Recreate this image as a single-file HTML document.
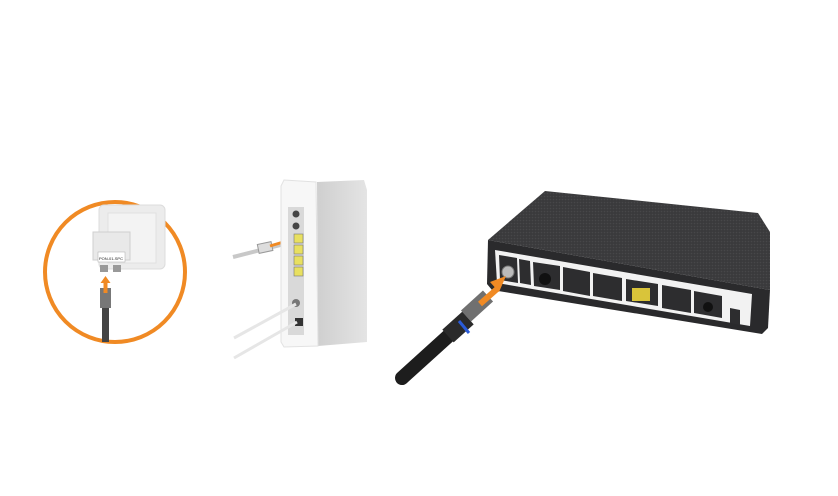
<!DOCTYPE html>
<html><head><style>html,body{margin:0;padding:0;background:#fff}svg{display:block}</style></head>
<body>
<svg width="838" height="496" viewBox="0 0 838 496" xmlns="http://www.w3.org/2000/svg">
<defs>
<pattern id="dots" width="3" height="3" patternUnits="userSpaceOnUse"><rect width="3" height="3" fill="#3a3a3c"/><circle cx="1.5" cy="1.5" r="0.8" fill="#474749"/></pattern>
<linearGradient id="side" x1="0" x2="1"><stop offset="0" stop-color="#cfcfcf"/><stop offset="1" stop-color="#e4e4e4"/></linearGradient>
</defs>
<circle cx="115" cy="272" r="70" fill="#fff" stroke="#f08a24" stroke-width="4"/>
<rect x="99" y="205" width="66" height="64" rx="5" fill="#ececec" stroke="#dcdcdc"/>
<rect x="108" y="213" width="48" height="50" fill="#f3f3f3" stroke="#e0e0e0"/>
<rect x="93" y="232" width="37" height="28" fill="#e9e9e9" stroke="#cfcfcf"/>
<rect x="98" y="252" width="27" height="10" fill="#fff" stroke="#aaa" stroke-width=".5"/>
<text x="111" y="260" font-family="Liberation Sans" font-size="4" text-anchor="middle" fill="#222">PON-01-SPC</text>
<rect x="100" y="265" width="8" height="7" fill="#999"/><rect x="113" y="265" width="8" height="7" fill="#999"/>
<rect x="100" y="288" width="11" height="20" fill="#777"/>
<rect x="102" y="308" width="7" height="34" fill="#444"/>
<path d="M105.5 276 l-5 7 h3 v10 h4 v-10 h3z" fill="#f08a24"/>
<path d="M233 257 L300 240" stroke="#c8c8c8" stroke-width="4" fill="none"/>
<rect x="258" y="243" width="14" height="9" fill="#ddd" stroke="#999" transform="rotate(-12 265 247)"/>
<path d="M270 246 L290 240" stroke="#f08a24" stroke-width="3"/>
<path d="M286 236 l8 4 -8 4z" fill="#f08a24"/>
<path d="M317 182 L364 180 L367 190 L367 342 L318 346z" fill="url(#side)"/>
<path d="M284 180 L316 182 L318 346 L284 347 L281 342 L281 186z" fill="#f7f7f7" stroke="#e2e2e2"/>
<rect x="288" y="207" width="16" height="128" fill="#d9d9d9"/>
<circle cx="296" cy="214" r="3.5" fill="#444"/><circle cx="296" cy="226" r="3.5" fill="#444"/>
<rect x="294" y="234" width="9" height="9" fill="#e8e060" stroke="#777" stroke-width=".6"/>
<rect x="294" y="245" width="9" height="9" fill="#e8e060" stroke="#777" stroke-width=".6"/>
<rect x="294" y="256" width="9" height="9" fill="#e8e060" stroke="#777" stroke-width=".6"/>
<rect x="294" y="267" width="9" height="9" fill="#e8e060" stroke="#777" stroke-width=".6"/>
<circle cx="296" cy="303" r="4" fill="#777"/>
<rect x="295" y="318" width="8" height="8" fill="#333"/>
<path d="M234 338 L296 304" stroke="#e6e6e6" stroke-width="3" fill="none"/>
<path d="M234 358 L297 322" stroke="#e6e6e6" stroke-width="3" fill="none"/>
<path d="M488 240 L545 191 L758 213 L770 232 L770 290 Z" fill="url(#dots)"/>
<path d="M488 240 L770 290 L768 328 L762 334 L492 290 L487 284 Z" fill="#2a2a2c"/>
<path d="M495 250 L752 294 L750 326 L497 283 Z" fill="#f2f2f2"/>
<g fill="#2d2d2f">
<path d="M499 255 L517 258 L518 283 L500 280Z"/>
<path d="M519 259 L530 261 L531 285 L520 283Z"/>
<path d="M533 262 L560 266 L560 290 L534 286Z"/>
<path d="M563 267 L590 272 L590 296 L563 291Z"/>
<path d="M593 273 L622 278 L622 301 L593 296Z"/>
<path d="M626 279 L658 284 L658 306 L626 301Z"/>
<path d="M662 285 L691 290 L691 313 L662 308Z"/>
<path d="M694 291 L722 296 L722 318 L694 313Z"/>
<path d="M730 308 L740 310 L740 325 L730 323Z"/>
</g>
<rect x="632" y="288" width="18" height="13" fill="#d9c43a"/>
<circle cx="545" cy="279" r="6" fill="#111"/><circle cx="708" cy="307" r="5" fill="#111"/>
<circle cx="508" cy="272" r="6" fill="#bbb" stroke="#777"/>
<path d="M402 378 L455 330" stroke="#1d1d1d" stroke-width="14" fill="none" stroke-linecap="round"/>
<path d="M448 336 L468 318" stroke="#2a2a2a" stroke-width="17"/>
<path d="M459 321 L469 333" stroke="#2a5bd8" stroke-width="3"/>
<path d="M466 316 L488 296" stroke="#707070" stroke-width="15"/>
<path d="M480 304 L497 289" stroke="#f08a24" stroke-width="6"/>
<path d="M490 282 l16 -6 -7 16z" fill="#f08a24"/>
</svg>
</body></html>
